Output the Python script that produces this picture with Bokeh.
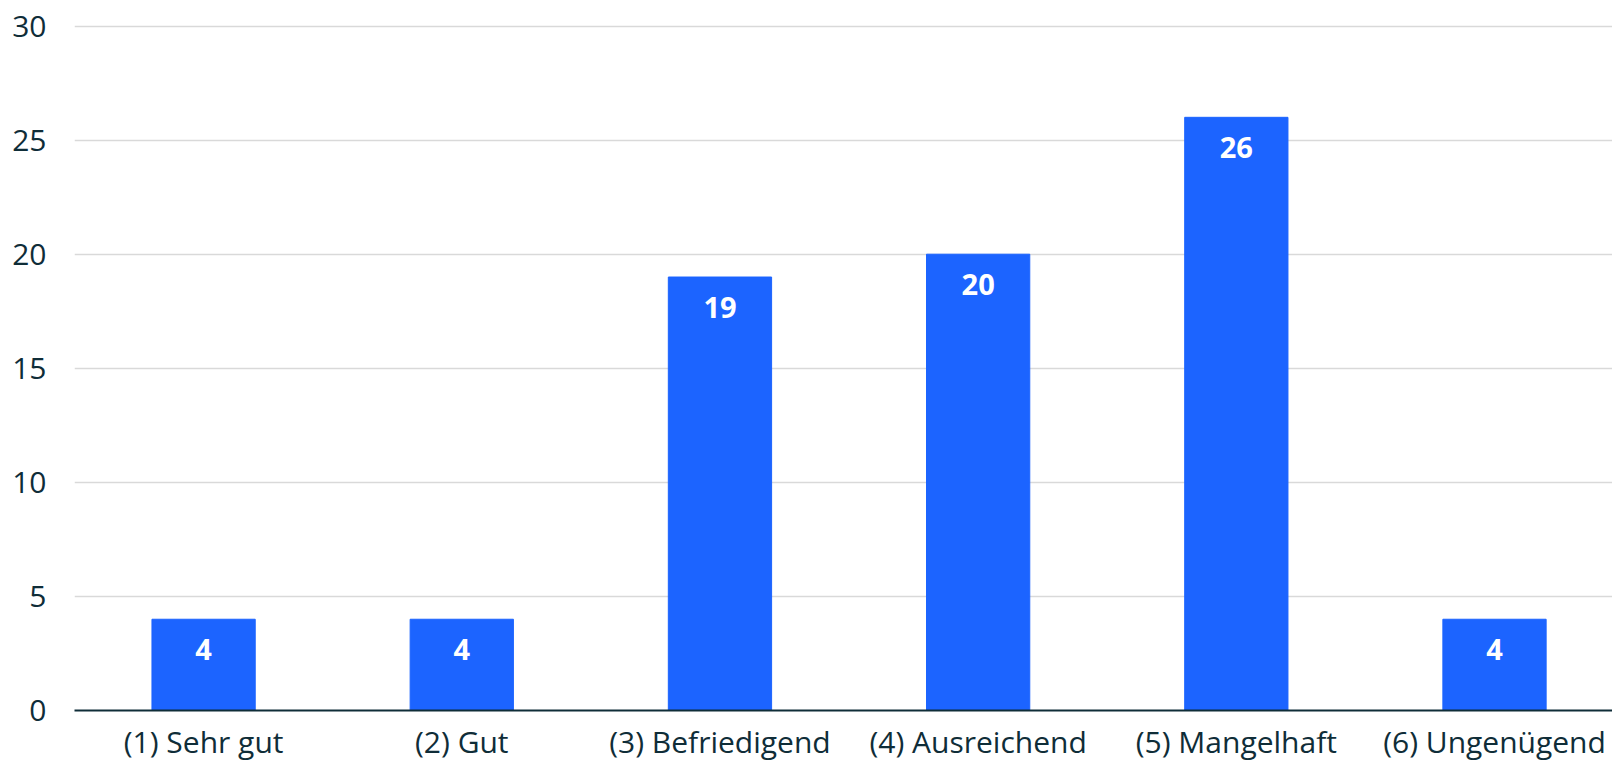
from bokeh.plotting import figure
from bokeh.models import Range1d, FixedTicker, ColumnDataSource
from bokeh.core.properties import value
from bokeh.embed import file_html
from bokeh.resources import INLINE

categories = ["(1) Sehr gut", "(2) Gut", "(3) Befriedigend", "(4) Ausreichend", "(5) Mangelhaft", "(6) Ungenügend"]
counts = [4, 4, 19, 20, 26, 4]
y_ticks = [0, 5, 10, 15, 20, 25, 30]

TEXT = "#0f2d38"
BAR = "#1c64ff"
FONT = "Open Sans"

xs = [i + 0.5 for i in range(len(categories))]
src = ColumnDataSource(dict(x=xs, top=counts, label=[str(c) for c in counts]))

p = figure(width=1612, height=764, output_backend="svg", toolbar_location=None,
           x_range=Range1d(0, 5.957), y_range=Range1d(0, 30.2),
           min_border_left=74, min_border_right=0, min_border_top=21, min_border_bottom=53)
p.outline_line_color = None
p.background_fill_color = "white"
p.border_fill_color = "white"

p.vbar(x="x", top="top", width=0.4, bottom=0, source=src, color=BAR)
p.text(x="x", y="top", text="label", source=src, text_color="white",
       text_font=value(FONT), text_font_style="bold", text_font_size="29px",
       text_align="center", text_baseline="middle", y_offset=30)

p.xgrid.grid_line_color = None
p.ygrid.grid_line_color = "#d9d9d9"
p.ygrid.grid_line_width = 1.5
p.ygrid.ticker = FixedTicker(ticks=y_ticks)

p.yaxis.ticker = FixedTicker(ticks=y_ticks)
p.yaxis.axis_line_color = None
p.yaxis.major_tick_line_color = None
p.yaxis.minor_tick_line_color = None
p.yaxis.major_tick_out = 0
p.yaxis.major_tick_in = 0
p.yaxis.major_label_standoff = 28
p.yaxis.major_label_text_font = FONT
p.yaxis.major_label_text_font_size = "30px"
p.yaxis.major_label_text_color = TEXT

p.xaxis.ticker = FixedTicker(ticks=xs)
p.xaxis.major_label_overrides = {x: c for x, c in zip(xs, categories)}
p.xaxis.axis_line_color = TEXT
p.xaxis.axis_line_width = 2
p.xaxis.major_tick_line_color = None
p.xaxis.minor_tick_line_color = None
p.xaxis.major_tick_out = 0
p.xaxis.major_tick_in = 0
p.xaxis.major_label_standoff = 10
p.xaxis.major_label_text_font = FONT
p.xaxis.major_label_text_font_size = "30px"
p.xaxis.major_label_text_color = TEXT

open("out.html", "w").write(file_html(p, INLINE))
